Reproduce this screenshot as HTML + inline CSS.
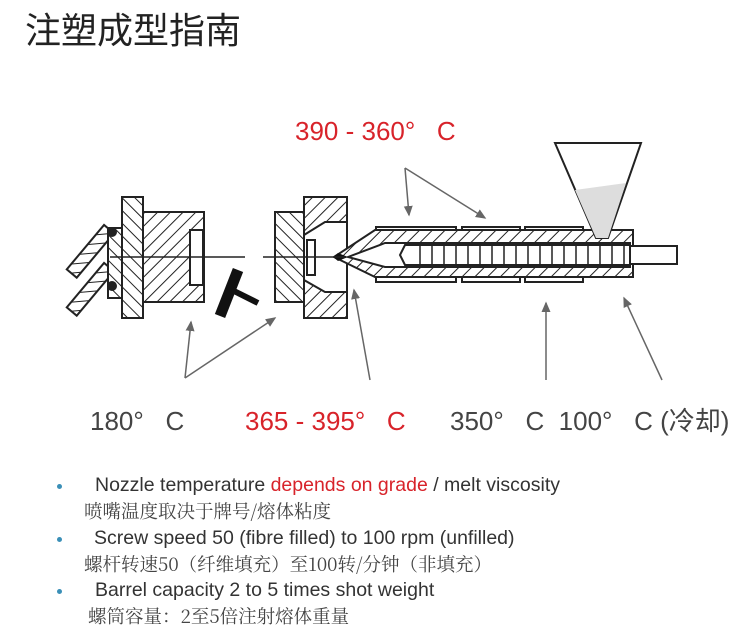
<!DOCTYPE html>
<html><head><meta charset="utf-8"><style>
body{margin:0;background:#fff;width:748px;height:635px;overflow:hidden;position:relative;font-family:"Liberation Sans","Noto Sans CJK SC",sans-serif}
.t{position:absolute;white-space:nowrap;line-height:1}
.en{font-size:19.5px;color:#333}
.cn{font-size:18.5px;color:#444;font-family:"Noto Serif CJK SC","Noto Sans CJK SC",serif}
.b{position:absolute;width:5px;height:5px;border-radius:50%;background:#3a8fb7}
.L{font-size:26px}
</style></head><body>
<div class="t" style="left:25px;top:10px;font-size:36px;color:#222;font-family:'Noto Sans CJK SC',sans-serif">注塑成型指南</div>
<svg width="748" height="635" style="position:absolute;left:0;top:0">
<defs>
<pattern id="h" width="9" height="9" patternUnits="userSpaceOnUse" patternTransform="rotate(45)"><rect width="9" height="9" fill="#fff"/><line x1="0" y1="0" x2="0" y2="9" stroke="#222" stroke-width="2"/></pattern>
<pattern id="h2" width="9" height="9" patternUnits="userSpaceOnUse" patternTransform="rotate(-45)"><rect width="9" height="9" fill="#fff"/><line x1="0" y1="0" x2="0" y2="9" stroke="#222" stroke-width="2"/></pattern>
<marker id="a" markerWidth="8" markerHeight="8" refX="6" refY="4" orient="auto"><path d="M0,1 L7,4 L0,7z" fill="#666"/></marker>
</defs>
<g stroke="#222" stroke-width="2">
<rect x="84" y="222" width="13" height="58" fill="url(#h)" transform="rotate(40 90 251)"/>
<rect x="84" y="260" width="13" height="58" fill="url(#h)" transform="rotate(40 90 289)"/>
<rect x="108" y="228" width="14" height="70" fill="url(#h2)"/>
<circle cx="112" cy="232" r="4" fill="#222"/><circle cx="112" cy="286" r="4" fill="#222"/>
<rect x="122" y="197" width="21" height="121" fill="url(#h2)"/>
<rect x="143" y="212" width="61" height="90" fill="url(#h)"/>
<rect x="190" y="230" width="13" height="55" fill="#fff"/>
<rect x="275" y="212" width="29" height="90" fill="url(#h2)"/>
<rect x="304" y="197" width="43" height="121" fill="url(#h)"/>
<path d="M304,235 L325,222 L347,222 L347,292 L325,292 L304,280z" fill="#fff"/>
<rect x="307" y="240" width="8" height="35" fill="#fff"/>
<rect x="376" y="227" width="80" height="5" fill="#fff"/><rect x="462" y="227" width="58" height="5" fill="#fff"/><rect x="525" y="227" width="58" height="5" fill="#fff"/>
<rect x="376" y="276" width="80" height="6" fill="#fff"/><rect x="462" y="276" width="58" height="6" fill="#fff"/><rect x="525" y="276" width="58" height="6" fill="#fff"/>
<path d="M334,257 L375,230 L633,230 L633,277 L375,277z" fill="url(#h)"/>
<path d="M348,257 L385,243 L630,243 L630,267 L385,267z" fill="#fff"/>
<path d="M405,245 L630,245 L630,265 L405,265 L400,255z" fill="#fff"/>
<g stroke-width="1.5"><path d="M420,245v20M432,245v20M444,245v20M456,245v20M468,245v20M480,245v20M492,245v20M504,245v20M516,245v20M528,245v20M540,245v20M552,245v20M564,245v20M576,245v20M588,245v20M600,245v20M612,245v20M624,245v20"/></g>
<rect x="630" y="246" width="47" height="18" fill="#fff"/>
<path d="M555,143 L641,143 L608,238 L596,238z" fill="#fff"/>
<path d="M575,190 L626,183 L608,238 L596,238z" fill="#ddd" stroke="none"/>
</g>
<path d="M338,253 L348,257 L338,261 L333,257z" fill="#111"/>
<line x1="110" y1="257" x2="245" y2="257" stroke="#222" stroke-width="1.5"/>
<line x1="263" y1="257" x2="345" y2="257" stroke="#222" stroke-width="1.5"/>
<line x1="220" y1="316" x2="238" y2="270" stroke="#111" stroke-width="11"/>
<line x1="232" y1="290" x2="258" y2="303" stroke="#111" stroke-width="6"/>
<g stroke="#666" stroke-width="1.5" fill="none" marker-end="url(#a)">
<line x1="405" y1="168" x2="409" y2="215"/><line x1="405" y1="168" x2="485" y2="218"/>
<line x1="185" y1="378" x2="191" y2="322"/><line x1="185" y1="378" x2="275" y2="318"/>
<line x1="370" y1="380" x2="354" y2="290"/>
<line x1="546" y1="380" x2="546" y2="303"/>
<line x1="662" y1="380" x2="624" y2="298"/>
</g>
</svg>
<div class="t L" style="left:295px;top:118px;color:#d8232a">390 - 360°&nbsp;&nbsp; C</div>
<div class="t L" style="left:90px;top:408px;color:#444">180°&nbsp;&nbsp; C</div>
<div class="t L" style="left:245px;top:408px;color:#d8232a">365 - 395°&nbsp;&nbsp; C</div>
<div class="t L" style="left:450px;top:408px;color:#444">350°&nbsp;&nbsp; C&nbsp; 100°&nbsp;&nbsp; C (冷却)</div>
<div class="b" style="left:57px;top:484px"></div>
<div class="t en" style="left:95px;top:476px">Nozzle temperature <span style="color:#d8232a">depends on grade</span> / melt viscosity</div>
<div class="t cn" style="left:84px;top:502px">喷嘴温度取决于牌号/熔体粘度</div>
<div class="b" style="left:57px;top:537px"></div>
<div class="t en" style="left:94px;top:529px">Screw speed 50 (fibre filled) to 100 rpm (unfilled)</div>
<div class="t cn" style="left:84px;top:555px">螺杆转速50（纤维填充）至100转/分钟（非填充）</div>
<div class="b" style="left:57px;top:589px"></div>
<div class="t en" style="left:95px;top:581px">Barrel capacity 2 to 5 times shot weight</div>
<div class="t cn" style="left:88px;top:607px">螺筒容量：2至5倍注射熔体重量</div>
</body></html>
